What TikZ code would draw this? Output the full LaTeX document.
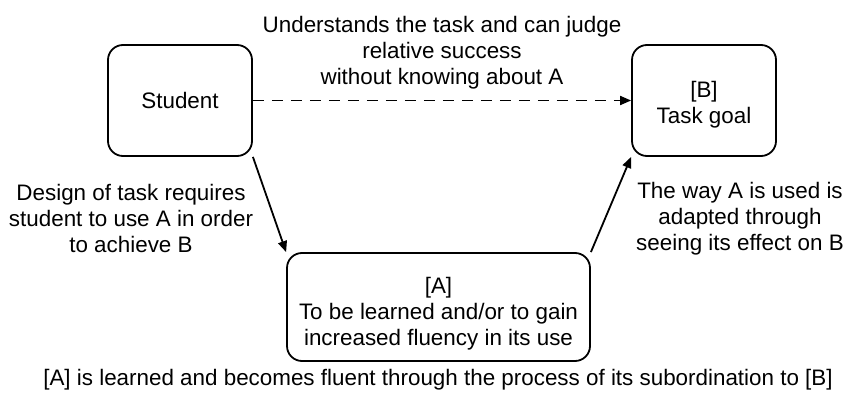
\documentclass[tikz,border=0pt]{standalone}
\usepackage{fontspec}
\setmainfont{Liberation Sans}
\usetikzlibrary{arrows.meta}
\begin{document}
\begin{tikzpicture}[x=1pt,y=-1pt,
  font=\fontsize{22.4}{26}\selectfont,
  box/.style={draw, line width=1.8pt, rounded corners=15pt, align=center, inner sep=0pt},
  lbl/.style={align=center, inner sep=0pt},
  arr/.style={line width=1.8pt, -{Triangle[length=11pt,width=9pt]}},
  dasharr/.style={arr, dash pattern=on 11pt off 8pt}]
\useasboundingbox (0,0) rectangle (845,398);
\node[box, minimum width=144pt, minimum height=111pt] (student) at (180,100.5) {Student};
\node[box, minimum width=144pt, minimum height=111pt] (goal) at (704,100.5) {};
\node[lbl] (goaltext) at (704,105) {[B]\\Task goal};
\node[box, minimum width=303pt, minimum height=108pt] (a) at (438.5,307) {};
\node[lbl] (atext) at (438.5,314) {[A]\\To be learned and/or to gain\\increased fluency in its use};
\node[lbl] (top) at (442,53) {Understands the task and can judge\\relative success\\without knowing about A};
\node[lbl] (left) at (131,218) {Design of task requires\\student to use A in order\\to achieve B};
\node[lbl] (right) at (740,219) {The way A is used is\\adapted through\\seeing its effect on B};
\node[lbl] (cap) at (438,380) {[A] is learned and becomes fluent through the process of its subordination to [B]};
\draw[dasharr] (student.east) -- (goal.west);
\draw[arr] (student.south east) -- (a.north west);
\draw[arr] (a.north east) -- (goal.south west);
\end{tikzpicture}
\end{document}
